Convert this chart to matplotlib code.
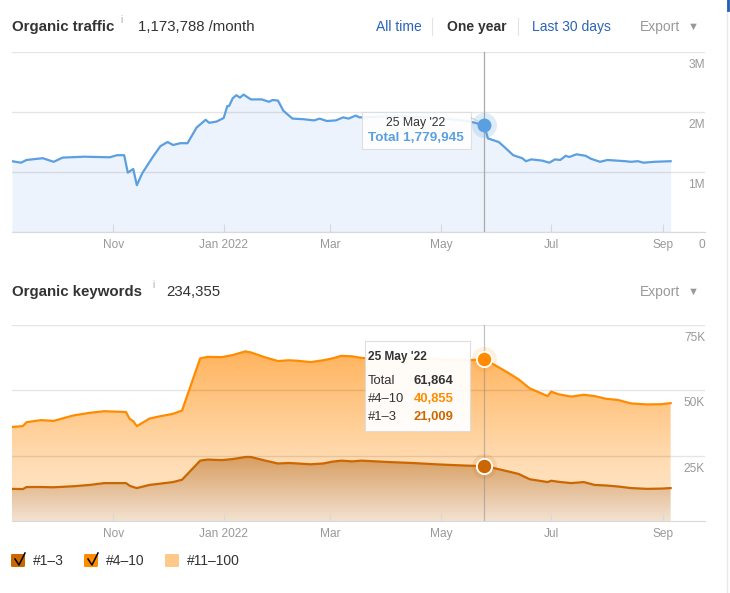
import numpy as np
import pandas as pd
import matplotlib
matplotlib.use('Agg')
from matplotlib import pyplot as plt
import matplotlib.dates as mdates
from matplotlib.patches import FancyBboxPatch, PathPatch
from matplotlib.colors import LinearSegmentedColormap
from matplotlib.lines import Line2D

plt.rcParams['font.family'] = ['Liberation Sans', 'DejaVu Sans']

# organic traffic (millions / month)
traffic_dates = ['2021-09-06', '2021-09-11', '2021-09-14', '2021-09-23', '2021-09-29', '2021-10-04',
                 '2021-10-16', '2021-10-30', '2021-11-03', '2021-11-07', '2021-11-09', '2021-11-12',
                 '2021-11-14', '2021-11-17', '2021-11-20', '2021-11-23', '2021-11-27', '2021-12-01',
                 '2021-12-04', '2021-12-08', '2021-12-12', '2021-12-17', '2021-12-22', '2021-12-24',
                 '2021-12-28', '2022-01-01', '2022-01-03', '2022-01-04', '2022-01-06', '2022-01-08',
                 '2022-01-10', '2022-01-12', '2022-01-16', '2022-01-22', '2022-01-26', '2022-01-28',
                 '2022-01-31', '2022-02-03', '2022-02-08', '2022-02-14', '2022-02-20', '2022-02-23',
                 '2022-02-27', '2022-03-04', '2022-03-08', '2022-03-11', '2022-03-15', '2022-03-17',
                 '2022-04-08', '2022-04-30', '2022-05-16', '2022-05-25', '2022-05-27', '2022-06-02',
                 '2022-06-05', '2022-06-10', '2022-06-15', '2022-06-17', '2022-06-20', '2022-06-26',
                 '2022-06-30', '2022-07-03', '2022-07-06', '2022-07-09', '2022-07-11', '2022-07-15',
                 '2022-07-20', '2022-07-23', '2022-07-28', '2022-08-01', '2022-08-11', '2022-08-14',
                 '2022-08-18', '2022-08-21', '2022-08-27', '2022-09-05']
traffic = [1.18, 1.155, 1.20, 1.23, 1.17, 1.24, 1.255, 1.245, 1.28, 1.28, 0.99, 1.05,
           0.78, 0.98, 1.12, 1.26, 1.43, 1.50, 1.45, 1.48, 1.48, 1.74, 1.87, 1.82,
           1.84, 1.90, 2.10, 2.10, 2.23, 2.28, 2.24, 2.29, 2.21, 2.21, 2.17, 2.20,
           2.19, 2.02, 1.89, 1.88, 1.86, 1.89, 1.85, 1.86, 1.91, 1.89, 1.94, 1.91,
           1.93, 1.90, 1.85, 1.779945, 1.56, 1.50, 1.42, 1.28, 1.23, 1.18, 1.21, 1.19,
           1.155, 1.21, 1.20, 1.27, 1.25, 1.295, 1.27, 1.22, 1.17, 1.20, 1.18, 1.17,
           1.18, 1.155, 1.17, 1.18]

# organic keywords (thousands): #1-3 and stacked total of #1-3 + #4-10
kw_dates = ['2021-09-06', '2021-09-12', '2021-09-14', '2021-09-22', '2021-09-29', '2021-10-10',
            '2021-10-19', '2021-10-27', '2021-11-08', '2021-11-10', '2021-11-12', '2021-11-14',
            '2021-11-21', '2021-11-27', '2021-12-04', '2021-12-09', '2021-12-19', '2021-12-23',
            '2021-12-31', '2022-01-06', '2022-01-13', '2022-01-16', '2022-01-24', '2022-01-31',
            '2022-02-06', '2022-02-11', '2022-02-18', '2022-02-25', '2022-03-02', '2022-03-07',
            '2022-03-13', '2022-03-18', '2022-04-01', '2022-04-15', '2022-05-01', '2022-05-15',
            '2022-05-25', '2022-05-30', '2022-06-07', '2022-06-13', '2022-06-19', '2022-06-29',
            '2022-07-01', '2022-07-05', '2022-07-12', '2022-07-19', '2022-07-25', '2022-07-31',
            '2022-08-07', '2022-08-14', '2022-08-23', '2022-08-31', '2022-09-05']
kw_top3 = [12.3, 12.2, 13.0, 13.0, 12.9, 13.3, 13.8, 14.5, 14.5, 13.5, 13.0, 12.6,
           13.8, 14.3, 14.9, 15.8, 23.1, 23.5, 23.3, 23.7, 24.5, 24.5, 23.1, 22.0,
           22.2, 22.0, 21.7, 22.0, 22.7, 23.1, 22.8, 23.1, 22.6, 22.2, 21.6, 21.2,
           21.009, 20.3, 19.0, 18.0, 16.0, 14.9, 15.4, 15.0, 14.5, 14.9, 13.8, 13.6,
           13.2, 12.6, 12.3, 12.4, 12.6]
kw_total = [36.0, 36.3, 37.8, 38.6, 38.3, 40.4, 41.4, 42.0, 41.7, 39.1, 38.2, 36.3,
            39.2, 40.1, 41.0, 42.3, 62.2, 62.8, 62.7, 63.5, 64.9, 64.5, 62.6, 61.2,
            61.5, 61.3, 60.8, 61.5, 62.2, 63.2, 63.0, 62.4, 62.0, 62.3, 61.8, 61.5,
            61.864, 60.0, 56.8, 54.2, 50.8, 47.8, 49.5, 48.5, 47.6, 48.3, 47.8, 46.8,
            46.3, 45.0, 44.6, 44.7, 45.1]

tick_dates = ['2021-11-01', '2022-01-01', '2022-03-01', '2022-05-01', '2022-07-01', '2022-09-01']
tick_labels = ['Nov', 'Jan 2022', 'Mar', 'May', 'Jul', 'Sep']
traffic_ticks = [0, 1, 2, 3]
traffic_tick_labels = ['0', '1M', '2M', '3M']
kw_ticks = [25, 50, 75]
kw_tick_labels = ['25K', '50K', '75K']
hover_date = '2022-05-25'
legend_labels = ['#1–3', '#4–10', '#11–100']
legend_colors = ['#cc6600', '#ff8c00', '#ffc98a']

W, H = 730, 593
fig = plt.figure(figsize=(W / 100, H / 100), dpi=100)


def fx(x):
    return x / W


def fy(y):
    return 1 - y / H


td = mdates.date2num(pd.to_datetime(traffic_dates))
kd = mdates.date2num(pd.to_datetime(kw_dates))
hx = mdates.date2num(pd.Timestamp(hover_date))
x0 = mdates.date2num(pd.Timestamp('2021-09-06'))
x1 = mdates.date2num(pd.Timestamp('2022-09-24'))

ax1 = fig.add_axes([fx(12), fy(232), (705 - 12) / W, (232 - 52) / H])
ax2 = fig.add_axes([fx(12), fy(521), (705 - 12) / W, (521 - 325) / H])


def style(ax, ymax, ticks, labels):
    ax.set_xlim(x0, x1)
    ax.set_ylim(0, ymax)
    for s in ['left', 'right', 'top']:
        ax.spines[s].set_visible(False)
    ax.spines['bottom'].set_color('#d9d9d9')
    ax.set_yticks(ticks)
    ax.tick_params(axis='y', length=0, labelleft=False)
    ax.grid(axis='y', color='black', alpha=0.1, lw=1)
    ax.set_axisbelow('line')
    ax.set_xticks(mdates.date2num(pd.to_datetime(tick_dates)))
    ax.set_xticklabels(tick_labels)
    ax.tick_params(axis='x', direction='in', length=6, color='#d9d9d9',
                   labelcolor='#999999', labelsize=8.6, pad=5)
    for t, lab in zip(ticks, labels):
        ax.annotate(lab, xy=(1, t), xycoords=('axes fraction', 'data'), xytext=(0, -13),
                    textcoords='offset pixels', ha='right', va='center',
                    color='#999999', fontsize=8.6, annotation_clip=False)


def gradient_fill(ax, x, ylow, yhigh, stops, ytop):
    poly = ax.fill_between(x, ylow, yhigh, color='none', lw=0)
    patch = PathPatch(poly.get_paths()[0], transform=ax.transData, facecolor='none', edgecolor='none')
    ax.add_patch(patch)
    cmap = LinearSegmentedColormap.from_list('g', stops)
    grad = np.linspace(0, 1, 256).reshape(-1, 1)
    im = ax.imshow(grad, cmap=cmap, aspect='auto', origin='lower',
                   extent=[x[0], x[-1], 0, ytop], zorder=0.5)
    im.set_clip_path(patch)


# --- traffic chart
ax1.fill_between(td, 0, traffic, color='#edf3fc', lw=0, zorder=0.5)
ax1.plot(td, traffic, color='#5a9fe0', lw=1.6, zorder=2)
style(ax1, 3, traffic_ticks, traffic_tick_labels)
ax1.axvline(hx, color='#aaaaaa', lw=0.9, zorder=3)
hv = traffic[traffic_dates.index(hover_date)]
ax1.plot(hx, hv, 'o', ms=18, color='#5a9fe0', alpha=0.2, mew=0, zorder=4)
ax1.plot(hx, hv, 'o', ms=10, color='#5a9fe0', mew=0, zorder=5)

# --- keywords chart
gradient_fill(ax2, kd, kw_top3, kw_total,
              [(0, '#ffe9cf'), (0.3, '#ffdcb3'), (0.87, '#ffb45e'), (1, '#ffaa4c')], 75)
gradient_fill(ax2, kd, 0, kw_top3, [(0, '#f3e2d1'), (1, '#d79c5e')], 25)
ax2.plot(kd, kw_total, color='#ff8c00', lw=1.6, zorder=2)
ax2.plot(kd, kw_top3, color='#cc6600', lw=1.6, zorder=2)
style(ax2, 75, kw_ticks, kw_tick_labels)
ax2.axvline(hx, color='#888888', alpha=0.5, lw=0.9, zorder=3)
i = kw_dates.index(hover_date)
for v, c in [(kw_total[i], '#ff8c00'), (kw_top3[i], '#cc6600')]:
    ax2.plot(hx, v, 'o', ms=18, color=c, alpha=0.12, mew=0, zorder=4)
    ax2.plot(hx, v, 'o', ms=11, mfc=c, mec='white', mew=1.3, zorder=5)

# --- headers
fig.text(fx(12), fy(31), 'Organic traffic', fontsize=10.8, fontweight='bold', color='#333333', va='baseline')
fig.text(fx(120), fy(23), 'i', fontsize=7, color='#aaaaaa', va='baseline')
fig.text(fx(138), fy(31), '1,173,788 /month', fontsize=10.8, color='#333333', va='baseline')
fig.text(fx(376), fy(31), 'All time', fontsize=10, color='#2a63b8', va='baseline')
fig.text(fx(447), fy(31), 'One year', fontsize=10, fontweight='bold', color='#333333', va='baseline')
fig.text(fx(532), fy(31), 'Last 30 days', fontsize=10, color='#2a63b8', va='baseline')
for sx in [432, 518]:
    fig.add_artist(Line2D([fx(sx), fx(sx)], [fy(18), fy(35)], color='#e3e3e3', lw=0.8))
for ey in [31, 296]:
    fig.text(fx(640), fy(ey), 'Export', fontsize=10, color='#999999', va='baseline')
    fig.text(fx(688), fy(ey - 1), '▼', fontsize=8, color='#999999', va='baseline')

fig.text(fx(12), fy(296), 'Organic keywords', fontsize=10.8, fontweight='bold', color='#333333', va='baseline')
fig.text(fx(152), fy(288), 'i', fontsize=7, color='#aaaaaa', va='baseline')
fig.text(fx(166), fy(296), '234,355', fontsize=10.8, color='#333333', va='baseline')

# --- tooltips
fig.add_artist(FancyBboxPatch((fx(362), fy(149)), fx(471) - fx(362), fy(112) - fy(149),
                              boxstyle='square,pad=0', facecolor='white', alpha=0.9,
                              edgecolor='#dddddd', lw=0.8, transform=fig.transFigure))
fig.add_artist(Line2D([fx(471), fx(478)], [fy(118), fy(121)], color='#cccccc', lw=0.8))
fig.text(fx(416), fy(123), "25 May '22", fontsize=8.8, color='#333333', ha='center', va='center')
fig.text(fx(416), fy(138), 'Total 1,779,945', fontsize=9.7, fontweight='bold', color='#5a9fe0',
         ha='center', va='center')

fig.add_artist(FancyBboxPatch((fx(365), fy(431)), fx(470) - fx(365), fy(341) - fy(431),
                              boxstyle='square,pad=0', facecolor='white', alpha=0.95,
                              edgecolor='#dddddd', lw=0.8, transform=fig.transFigure))
fig.text(fx(368), fy(357), "25 May '22", fontsize=8.6, fontweight='bold', color='#333333', va='center')
rows = [('Total', '61,864', '#333333'), ('#4–10', '40,855', '#ff8c00'), ('#1–3', '21,009', '#cc6600')]
for k, (lab, val, col) in enumerate(rows):
    yy = 381 + k * 18
    fig.text(fx(368), fy(yy), lab, fontsize=9.4, color='#333333', va='center')
    fig.text(fx(414), fy(yy), val, fontsize=9.4, fontweight='bold', color=col, va='center')

# --- legend
for k, (lab, col, lx) in enumerate(zip(legend_labels, legend_colors, [11, 84, 165])):
    fig.add_artist(FancyBboxPatch((fx(lx), fy(567)), 14 / W, 13 / H,
                                  boxstyle='round,pad=0,rounding_size=0.002', facecolor=col,
                                  edgecolor='none', transform=fig.transFigure))
    if k < 2:
        fig.add_artist(Line2D([fx(lx + 4), fx(lx + 8), fx(lx + 14)], [fy(559), fy(565), fy(553)],
                              color='black', lw=1.1))
    fig.text(fx(lx + 22), fy(561), lab, fontsize=10, color='#333333', va='center')

# page border on the right
fig.add_artist(Line2D([fx(727), fx(727)], [0, 1], color='#e8e8e8', lw=1))
fig.add_artist(Line2D([fx(728), fx(728)], [fy(0), fy(10)], color='#1f5fb4', lw=2))

fig.savefig('out.png', dpi=100)
